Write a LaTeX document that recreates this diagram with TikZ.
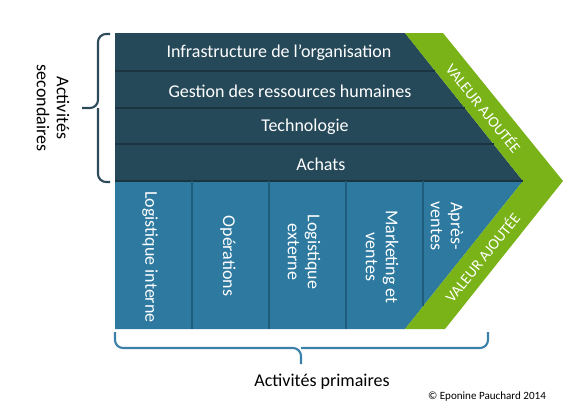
\documentclass[tikz,border=0pt]{standalone}
\usepackage{fontspec}
\setmainfont{Carlito}
\definecolor{darkrow}{HTML}{264959}
\definecolor{darkline}{HTML}{1A3541}
\definecolor{primrow}{HTML}{2D79A0}
\definecolor{primline}{HTML}{1F5B7A}
\definecolor{valgreen}{HTML}{7AB318}
\definecolor{bracedark}{HTML}{2B4A5A}
\definecolor{braceblue}{HTML}{3A80A8}
\tikzset{
  rowtext/.style={text=white, font=\fontsize{13.5}{15}\selectfont},
  coltext/.style={text=white, font=\fontsize{13.5}{15}\selectfont, align=center, rotate=-90},
  valtext/.style={text=white, font=\fontsize{11.5}{13}\selectfont, inner sep=0pt},
  label/.style={font=\fontsize{13.5}{15}\selectfont, align=center}
}
\begin{document}
\begin{tikzpicture}[x=0.75pt,y=-0.75pt]
\useasboundingbox (0,0) rectangle (572,412);
% secondary and primary blocks
\fill[darkrow] (115,33) -- (405,33) -- (523,181) -- (115,181) -- cycle;
\fill[primrow] (115,181) -- (523,181) -- (405,329) -- (115,329) -- cycle;
% green chevron
\fill[valgreen] (405,33) -- (443,33) -- (563,181) -- (445,329) -- (405,329) -- (523,181) -- cycle;
\foreach \y in {71,108,144,181} % edit here for the row lines
\draw[darkline, line width=1.2pt] (115,\y) -- ({405+0.8*(\y-33)},\y);
\foreach \x in {192,269,346} % edit here for the column lines
\draw[primline, line width=1.2pt] (\x,181) -- (\x,329);
\draw[primline, line width=1.2pt] (423,181) -- (423,306);
% secondary activities
\foreach \t/\x/\y/\n in {Infrastructure de l’organisation/279/53/infra, Gestion des ressources humaines/290/91/grh, Technologie/305/127/techno, Achats/321/164/achats}
\node[rowtext] (\n) at (\x,\y) {\t};
% primary activities
\foreach \t/\x/\y/\n in {Logistique interne/150/257/logint, Opérations/228/256/oper, {Logistique\\externe}/304/252/logext, {Marketing et\\ventes}/382/257/mkt, {Après-\\ventes}/447/226/apv}
\node[coltext] (\n) at (\x,\y) {\t};
\node[valtext, rotate=-51] (valtop) at (484,108) {VALEUR AJOUTÉE};
\node[valtext, rotate=51] (valbot) at (482,257) {VALEUR AJOUTÉE};
% braces
\draw[bracedark, line width=1.6pt, rounded corners=6] (110,34) -- (98,34) -- (98,108) -- (82,108);
\draw[bracedark, line width=1.6pt, rounded corners=6] (110,182) -- (98,182) -- (98,108);
\draw[braceblue, line width=1.6pt, rounded corners=6] (115,332) -- (115,348) -- (301,348) -- (301,364);
\draw[braceblue, line width=1.6pt, rounded corners=6] (488,332) -- (488,348) -- (301,348);
\node[label, rotate=-90] (second) at (53,108) {Activités\\secondaires};
\node[label] (prim) at (322,382) {Activités primaires};
\node[font=\fontsize{8.3}{10}\selectfont] (copy) at (487,397) {© Eponine Pauchard 2014};
\end{tikzpicture}
\end{document}
